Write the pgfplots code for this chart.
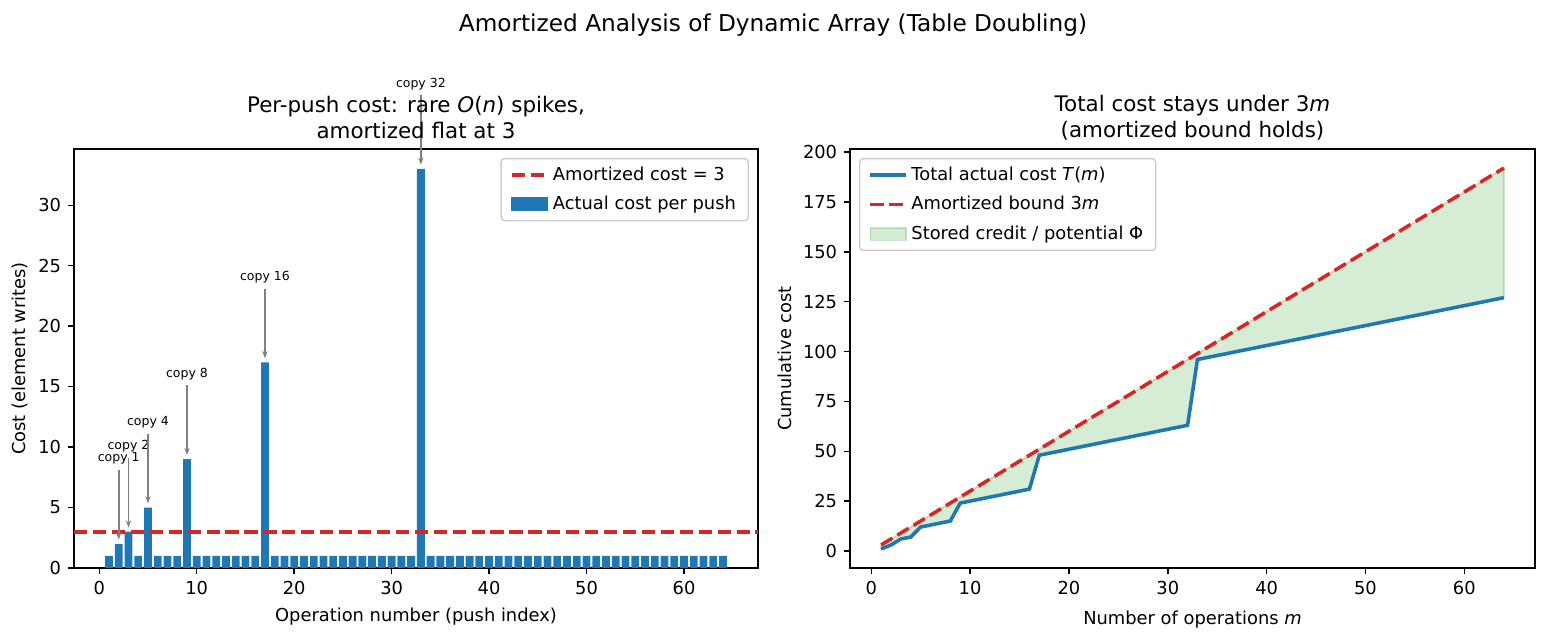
\documentclass[border=0pt]{standalone}
\usepackage{pgfplots}
\pgfplotsset{compat=1.18}
\usepackage{fontspec}
\setmainfont{DejaVu Sans}
\usetikzlibrary{arrows.meta}
\definecolor{mblue}{HTML}{1F77B4}
\definecolor{mred}{HTML}{D62728}
\definecolor{mgreen}{HTML}{2CA02C}
\pgfplotsset{
  mystyle/.style={
    scale only axis, height=234.64pt, anchor=south west,
    line width=0.8pt,
    tick align=outside, tick pos=left, major tick length=3.5pt,
    tick style={line width=0.8pt, black},
    ticklabel style={font=\fontsize{10}{12}\selectfont},
    /pgf/number format/assume math mode=true,
    label style={font=\fontsize{10}{12}\selectfont},
    title style={anchor=center, align=center, font=\fontsize{12}{14.4}\selectfont, inner sep=0pt},
    legend cell align=left,
    legend image code/.code={\draw[#1] (0pt,0pt) -- (20pt,0pt);},
    legend style={draw=black!20, rounded corners=2pt, fill=white, fill opacity=0.8, text opacity=1,
      font=\fontsize{10}{12}\selectfont, inner xsep=5pt, inner ysep=2.5pt, row sep=3.5pt},
  }
}
\begin{document}
\begin{tikzpicture}
\useasboundingbox (0,0) rectangle (865.76pt,358.96pt);
\node[font=\fontsize{13}{16}\selectfont] at (432.88pt,344.8pt) {Amortized Analysis of Dynamic Array (Table Doubling)};

\begin{axis}[mystyle, width=383.04pt, at={(41.44pt,40.88pt)},
  xmin=-2.59, xmax=67.59, ymin=0, ymax=34.65,
  xtick={0,10,...,60}, ytick={0,5,...,30}, clip=false,
  title={Per-push cost: rare \textit{O}(\textit{n}) spikes,\\amortized flat at 3},
  title style={at={(axis description cs:0.5,1.049)}},
  xlabel={Operation number (push index)},
  xlabel style={at={(axis description cs:0.5,-0.115)}, anchor=center},
  ylabel={Cost (element writes)},
  ylabel style={at={(axis description cs:-0.0789,0.5)}, anchor=center},
  legend style={at={(1,1)}, anchor=north east, xshift=-5pt, yshift=-5pt},
]
\addplot[ybar, bar width=0.8, bar shift=0pt, fill=mblue, draw=none, forget plot] coordinates {
(1,1)(2,2)(3,3)(4,1)(5,5)(6,1)(7,1)(8,1)(9,9)(10,1)(11,1)(12,1)(13,1)(14,1)(15,1)(16,1)
(17,17)(18,1)(19,1)(20,1)(21,1)(22,1)(23,1)(24,1)(25,1)(26,1)(27,1)(28,1)(29,1)(30,1)(31,1)(32,1)
(33,33)(34,1)(35,1)(36,1)(37,1)(38,1)(39,1)(40,1)(41,1)(42,1)(43,1)(44,1)(45,1)(46,1)(47,1)(48,1)
(49,1)(50,1)(51,1)(52,1)(53,1)(54,1)(55,1)(56,1)(57,1)(58,1)(59,1)(60,1)(61,1)(62,1)(63,1)(64,1)};
\addplot[mred, line width=2pt, dash pattern=on 7.4pt off 3.2pt] coordinates {(-2.59,3) (67.59,3)};
\addlegendentry{Amortized cost = 3}
\addlegendimage{legend image code/.code={\fill[mblue, fill opacity=1, sharp corners] (0pt,-3.5pt) rectangle (20pt,3.5pt);}}
\addlegendentry{Actual cost per push}
\foreach \i/\c/\k in {2/2/1, 3/3/2, 5/5/4, 9/9/8, 17/17/16, 33/33/32} {
  \edef\temp{\noexpand\node[anchor=south, inner sep=0pt, font=\noexpand\fontsize{7}{8}\noexpand\selectfont] at (axis cs:\i,\c+6.5) {copy \k};
  \noexpand\draw[-{Stealth[length=4pt,width=3pt]}, gray, line width=0.9pt] (axis cs:\i,\c+6.1) -- (axis cs:\i,\c+0.35);}
  \temp
}
\end{axis}

\begin{axis}[mystyle, width=383.6pt, at={(476pt,40.88pt)},
  xmin=-2.15, xmax=67.15, ymin=-8.55, ymax=201.55,
  xtick={0,10,...,60}, ytick={0,25,...,200},
  title={Total cost stays under 3\textit{m}\\(amortized bound holds)},
  title style={at={(axis description cs:0.5,1.049)}},
  xlabel={Number of operations \textit{m}},
  xlabel style={at={(axis description cs:0.5,-0.124)}, anchor=center},
  ylabel={Cumulative cost},
  ylabel style={at={(axis description cs:-0.0949,0.5)}, anchor=center},
  legend style={at={(0,1)}, anchor=north west, xshift=5pt, yshift=-5pt},
]
\addplot[fill=mgreen, fill opacity=0.2, draw=mgreen, draw opacity=0.25, line width=1pt, forget plot] coordinates {
(1,3)(64,192)(64,127)(33,96)(32,63)(17,48)(16,31)(9,24)(8,15)(5,12)(4,7)(3,6)(2,3)(1,1)} -- cycle;
\addplot[mblue, line width=2pt] coordinates {
(1,1)(2,3)(3,6)(4,7)(5,12)(6,13)(7,14)(8,15)(9,24)(10,25)(11,26)(12,27)(13,28)(14,29)(15,30)(16,31)
(17,48)(18,49)(19,50)(20,51)(21,52)(22,53)(23,54)(24,55)(25,56)(26,57)(27,58)(28,59)(29,60)(30,61)(31,62)(32,63)
(33,96)(34,97)(35,98)(36,99)(37,100)(38,101)(39,102)(40,103)(41,104)(42,105)(43,106)(44,107)(45,108)(46,109)(47,110)(48,111)
(49,112)(50,113)(51,114)(52,115)(53,116)(54,117)(55,118)(56,119)(57,120)(58,121)(59,122)(60,123)(61,124)(62,125)(63,126)(64,127)};
\addlegendentry{Total actual cost \textit{T}(\textit{m})}
\addplot[mred, line width=2pt, dash pattern=on 7.4pt off 3.2pt] coordinates {(1,3)(16,48)(32,96)(48,144)(64,192)};
\addlegendentry{Amortized bound 3\textit{m}}
\addlegendimage{legend image code/.code={\filldraw[sharp corners, fill=mgreen, fill opacity=0.2, draw=mgreen, draw opacity=0.25] (0pt,-3.5pt) rectangle (20pt,3.5pt);}}
\addlegendentry{Stored credit / potential Φ}
\end{axis}
\end{tikzpicture}
\end{document}
